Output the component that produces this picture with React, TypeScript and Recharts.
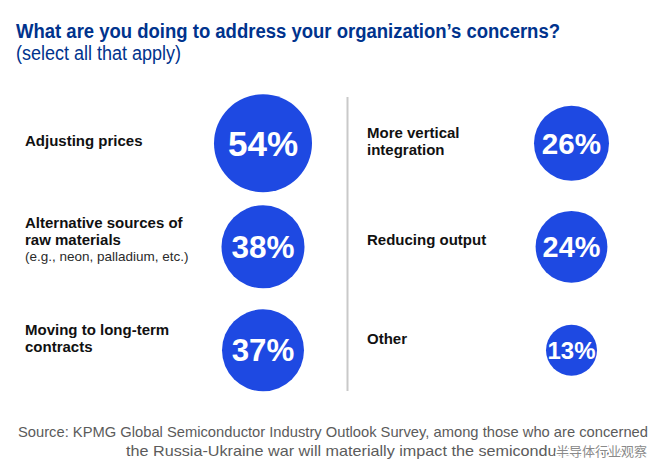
import React from "react";
import { ScatterChart, Scatter, XAxis, YAxis, ZAxis } from "recharts";

// survey answers, two columns of three
const leftActions = ["Adjusting prices", "Alternative sources of raw materials", "Moving to long-term contracts"];
const leftShares = [54, 38, 37];
const rightActions = ["More vertical integration", "Reducing output", "Other"];
const rightShares = [26, 24, 13];

const BLUE = "#1E49E2";
const NAVY = "#00338D";
const SANS = '"Liberation Sans", Arial, Helvetica, sans-serif';

const W = 654;
const H = 461;

const leftData = leftShares.map((share, i) => ({ col: 0, row: i, share, action: leftActions[i] }));
const rightData = rightShares.map((share, i) => ({ col: 1, row: i, share, action: rightActions[i] }));

// bubble area grows linearly with the share inside each column
const leftZ = [Math.min(...leftShares), Math.max(...leftShares)];
const rightZ = [Math.min(...rightShares), Math.max(...rightShares)];

function Bubble(props: any) {
  const { cx, cy, payload } = props;
  const r = props.width ? props.width / 2 : Math.sqrt((props.size || 0) / Math.PI);
  const fs = 12 + 0.47 * r;
  return (
    <g>
      <circle cx={cx} cy={cy} r={r} fill={BLUE} />
      <text
        x={cx}
        y={cy + fs * 0.358}
        textAnchor="middle"
        fill="#fff"
        fontSize={fs}
        fontWeight={700}
        fontFamily={SANS}
      >
        {payload.share}%
      </text>
    </g>
  );
}

function Label({ x, y, lines, note }: { x: number; y: number; lines: string[]; note?: string }) {
  return (
    <text x={x} y={y} fontFamily={SANS} fontSize={15} fontWeight={700} fill="#111">
      {lines.map((l, i) => (
        <tspan key={i} x={x} dy={i === 0 ? 0 : 17}>
          {l}
        </tspan>
      ))}
      {note && (
        <tspan x={x} dy={16} fontSize={13.5} fontWeight={400} fill="#2a2a2a">
          {note}
        </tspan>
      )}
    </text>
  );
}

export default function App() {
  return (
    <div style={{ position: "absolute", left: 0, top: 0, width: W, height: H, background: "#fff" }}>
      <ScatterChart
        width={W}
        height={H}
        margin={{ top: 143.3, bottom: 110.7, left: 263, right: 82.5 }}
        style={{ position: "absolute", left: 0, top: 0 }}
      >
        <XAxis type="number" dataKey="col" domain={[0, 1]} hide />
        <YAxis type="number" dataKey="row" domain={[0, 2]} reversed hide />
        <ZAxis zAxisId="left" type="number" dataKey="share" domain={leftZ} range={[5281, 7543]} />
        <ZAxis zAxisId="right" type="number" dataKey="share" domain={rightZ} range={[2042, 4417]} />
        <Scatter data={leftData} zAxisId="left" shape={<Bubble />} isAnimationActive={false} />
        <Scatter data={rightData} zAxisId="right" shape={<Bubble />} isAnimationActive={false} />
      </ScatterChart>

      <svg width={W} height={H} style={{ position: "absolute", left: 0, top: 0, pointerEvents: "none" }}>
        <text
          x={16}
          y={38}
          fontFamily={SANS}
          fontSize={20}
          fontWeight={700}
          fill={NAVY}
          textLength={544}
          lengthAdjust="spacingAndGlyphs"
        >
          What are you doing to address your organization’s concerns?
        </text>
        <text
          x={16}
          y={60}
          fontFamily={SANS}
          fontSize={20}
          fill={NAVY}
          textLength={165}
          lengthAdjust="spacingAndGlyphs"
        >
          (select all that apply)
        </text>

        <line x1={347.5} y1={97} x2={347.5} y2={391} stroke="#c9c9c9" strokeWidth={2} />

        <Label x={25} y={146} lines={["Adjusting prices"]} />
        <Label x={25} y={227.5} lines={["Alternative sources of", "raw materials"]} note="(e.g., neon, palladium, etc.)" />
        <Label x={25} y={335} lines={["Moving to long-term", "contracts"]} />
        <Label x={367} y={137.5} lines={["More vertical", "integration"]} />
        <Label x={367} y={245} lines={["Reducing output"]} />
        <Label x={367} y={344} lines={["Other"]} />

        <text
          x={18}
          y={437}
          fontFamily={SANS}
          fontSize={15}
          fill="#5b5b5b"
          textLength={630}
          lengthAdjust="spacingAndGlyphs"
        >
          Source: KPMG Global Semiconductor Industry Outlook Survey, among those who are concerned
        </text>
        <text
          x={126}
          y={456}
          fontFamily={SANS}
          fontSize={15}
          fill="#5b5b5b"
          textLength={522}
          lengthAdjust="spacingAndGlyphs"
        >
          the Russia-Ukraine war will materially impact the semiconductor industry.
        </text>
        <text
          x={556}
          y={456}
          fontFamily='"Noto Sans CJK SC", sans-serif'
          fontSize={13}
          fill="#8a8a8a"
          stroke="#fff"
          strokeWidth={3}
          paintOrder="stroke"
        >
          半导体行业观察
        </text>
      </svg>
    </div>
  );
}
